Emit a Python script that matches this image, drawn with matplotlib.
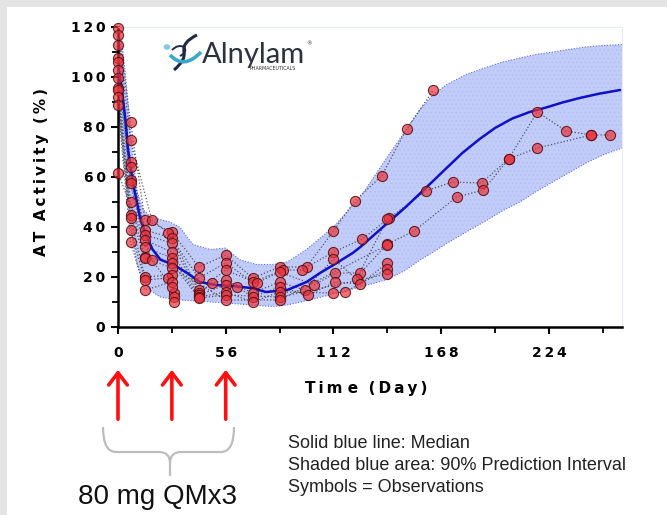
import matplotlib
matplotlib.use("Agg")
import matplotlib.pyplot as plt
from matplotlib.patches import Rectangle, FancyArrowPatch, PathPatch
from matplotlib.path import Path
from matplotlib.ticker import FixedLocator, FixedFormatter, MultipleLocator
import matplotlib.transforms as mtransforms

# ---------------- data ----------------
band_day = [0, 2, 4, 6, 8, 10, 13, 17, 22, 27, 32, 39, 48, 56, 63, 72, 81, 88, 98,
            112, 126, 140, 149, 157, 164, 171, 181, 192, 200, 209, 217, 226, 234, 243, 252, 262]
band_upper = [120, 114, 100, 82, 66, 54, 47, 44, 43, 42, 40, 33, 31, 31.6, 27, 25, 25, 26, 31,
              40, 52, 68, 78, 87, 93, 97, 101, 104, 106, 107.6, 109, 110, 111, 112, 112.6, 113]
band_lower = [88, 75, 58, 44, 33, 25, 18, 14.5, 12, 11.3, 10.8, 10.5, 10, 9.6, 9.2, 8.6, 8.2, 8.8, 10.5,
              13.2, 16, 19, 22.5, 26.8, 30, 33.5, 38, 42.8, 46.5, 50, 54, 58, 61.5, 65.5, 68.8, 71.6]

median_day = [0, 2, 4, 5.2, 7.8, 11.4, 15, 18, 22, 29, 36, 42.6, 51, 60, 69, 77, 88, 98, 105,
              112, 122, 126, 136, 140, 150, 160, 170, 179, 188, 196, 205, 214, 223, 231, 240, 250, 261]
median_val = [105, 95, 82, 71, 57.6, 44, 36, 31, 27, 24.8, 21.6, 18, 16.8, 16.4, 15.6, 14, 14.8, 18, 21.6,
              24.8, 29.6, 32, 38.8, 41.5, 48.3, 55.6, 63, 69.6, 75.2, 79.6, 83.4, 86, 87.9, 89.8, 91.6, 93.3, 94.8]

obs_subject = ([1] * 14 + [2] * 20 + [3] * 18 + [4] * 13 + [5] * 13 + [6] * 11 + [7] * 8 + [8] * 7
               + [9] * 5 + [10] * 5 + [11] * 5 + [12] * 3)
obs_day = [
    0, 6.5, 14, 28, 42, 56, 70, 84, 98, 112, 123, 137, 150, 164,
    0, 6.5, 17.6, 26, 42, 56, 70, 86, 95.6, 112, 127, 141, 160, 174, 189, 203, 218, 233, 246, 256,
    0, 6.5, 14, 28, 42, 56, 72, 84, 102, 113, 126, 140, 154, 176, 190, 203, 218, 246,
    0, 6.5, 14, 28, 42, 49, 56, 70, 84, 97, 112, 124, 140,
    0, 6.5, 14, 28, 42, 56, 62, 70, 84, 99, 113, 126, 140,
    0, 6.5, 14, 28, 42, 56, 70, 84, 112, 118, 140,
    0, 6.5, 14, 28, 42, 56, 84, 140,
    0, 6.5, 14, 28, 56, 84, 140,
    0, 6.5, 14, 28, 29,
    0, 6.5, 14, 26, 29,
    0, 6.5, 14, 28, 29,
    0, 17.6, 28,
]
obs_value = [
    119.6, 82, 42.8, 38, 24, 28.8, 19.6, 24, 24, 38.4, 50.4, 60.4, 79.2, 94.8,
    116.8, 75, 42.8, 37.6, 19.6, 25.6, 18, 22.8, 22.8, 30, 35.2, 43.6, 54.4, 58, 57.6, 67.2, 86, 78.4, 76.8, 76.8,
    112.8, 66, 38.8, 35.6, 14.8, 22.8, 17.6, 22, 16.8, 21.6, 21.6, 33.2, 38.4, 52, 54.8, 67.2, 71.6, 76.8,
    107.6, 64, 36.8, 33.6, 13.6, 17.6, 18.8, 13.6, 18, 14.8, 27.2, 19.2, 43.2,
    106, 58.8, 34.8, 30, 12.8, 16.8, 16, 12, 16, 12.8, 18, 17.2, 25.6,
    102.8, 57.6, 32, 27.6, 12, 14, 10, 14, 13.6, 14, 23.2,
    99.6, 50, 28, 25.6, 11.6, 12.8, 12, 21.2,
    95.6, 44.8, 27.6, 23.6, 10.8, 10.8, 32.8,
    94.8, 43.6, 20, 20.8, 13.6,
    92, 38.8, 18.8, 19.6, 12,
    88.8, 34, 14.8, 18, 10,
    61.6, 26.8, 16,
]

dose_days = [0, 28, 56]
x_ticks = [0, 56, 112, 168, 224]
x_tick_labels = ["0", "56", "112", "168", "224"]
y_ticks = [0, 20, 40, 60, 80, 100, 120]
y_tick_labels = ["0", "20", "40", "60", "80", "100", "120"]

# ---------------- figure ----------------
W, H = 667, 515
fig = plt.figure(figsize=(W / 100, H / 100), dpi=100)
fig.patch.set_facecolor("#e4e4e4")
fig.add_artist(Rectangle((7 / W, 0), 1, 1 - 7 / H, transform=fig.transFigure,
                         facecolor="white", edgecolor="none", zorder=-10))


def fx(px):
    return px / W


def fy(py):
    return 1 - py / H


ax = fig.add_axes([fx(118), fy(327), (622 - 118) / W, 300 / H])
ax.patch.set_alpha(0)
ax.set_xlim(0, 262)
ax.set_ylim(0, 120)

plt.rcParams["hatch.linewidth"] = 0.5
ax.fill_between(band_day, band_lower, band_upper, facecolor="#c2ccf8",
                edgecolor="#b0bdf6", hatch="....", linewidth=0, zorder=1)
ax.plot(band_day, band_upper, color="#6070ea", ls=(0, (1, 1.5)), lw=0.8, zorder=1.5)
ax.plot(band_day, band_lower, color="#6070ea", ls=(0, (1, 1.5)), lw=0.8, zorder=1.5)

# observations: dotted lines per subject
subjects = sorted(set(obs_subject))
for s in subjects:
    d = [obs_day[i] for i in range(len(obs_day)) if obs_subject[i] == s]
    v = [obs_value[i] for i in range(len(obs_day)) if obs_subject[i] == s]
    ax.plot(d, v, color="#3a3a3a", ls=(0, (1, 1.6)), lw=0.9, alpha=0.8, zorder=2)

ax.plot(median_day, median_val, color="#1010c8", lw=1.8, zorder=3, solid_capstyle="round")

ax.plot(obs_day, obs_value, ls="none", marker="o", markersize=7.3,
        markerfacecolor=(0.92, 0.20, 0.24, 0.70), markeredgecolor=(0.32, 0.06, 0.06, 0.85),
        markeredgewidth=0.8, zorder=4, clip_on=False)

# spines / ticks
for side in ["left", "bottom"]:
    ax.spines[side].set_linewidth(1.8)
    ax.spines[side].set_color("black")
for side in ["top", "right"]:
    ax.spines[side].set_linewidth(0.8)
    ax.spines[side].set_color("#e6ebf7")

sp = "\u2009"
ax.xaxis.set_major_locator(FixedLocator(x_ticks))
ax.xaxis.set_major_formatter(FixedFormatter([sp.join(t) for t in x_tick_labels]))
ax.xaxis.set_minor_locator(MultipleLocator(28))
ax.yaxis.set_major_locator(FixedLocator(y_ticks))
ax.yaxis.set_major_formatter(FixedFormatter([sp.join(t) for t in y_tick_labels]))
ax.yaxis.set_minor_locator(MultipleLocator(10))
ax.tick_params(axis="both", which="major", direction="out", length=5, width=1.5,
               labelsize=10)
ax.tick_params(axis="both", which="minor", direction="out", length=4, width=1.3)
ax.tick_params(axis="x", which="major", pad=9)
ax.tick_params(axis="y", which="major", pad=4)
ax.tick_params(top=False, right=False, which="both")
for lab in ax.get_xticklabels() + ax.get_yticklabels():
    lab.set_fontweight("bold")
    lab.set_family("DejaVu Sans")

fig.text(fx(42), fy(172), sp.join("AT") + "  " + sp.join("Activity") + "  " + sp.join("(%)"),
         rotation=90, ha="center", va="center", fontsize=11, fontweight="bold",
         family="DejaVu Sans")
fig.text(fx(366), fy(389), sp.join("Tim") + " " + "e" + "  " + sp.join("(Day)"),
         ha="center", va="center", fontsize=11, fontweight="bold", family="DejaVu Sans")

# dose arrows (x in data coords, y in figure coords)
btrans = mtransforms.blended_transform_factory(ax.transData, fig.transFigure)
for d in dose_days:
    arr = FancyArrowPatch((d, fy(422)), (d, fy(367)), transform=btrans,
                          arrowstyle="->,head_length=0.55,head_width=0.42",
                          mutation_scale=16, color="#ff1010", lw=2.6,
                          clip_on=False)
    fig.add_artist(arr)


# brace
def P(px, py):
    return (fx(px), fy(py))


verts = [P(103, 427), P(103, 452), P(116, 452), P(159, 452), P(170, 452), P(170, 463), P(170, 476),
         P(170, 463), P(170, 452), P(181, 452), P(221, 452), P(234, 452), P(234, 427)]
codes = [Path.MOVETO, Path.CURVE3, Path.CURVE3, Path.LINETO, Path.CURVE3, Path.CURVE3, Path.LINETO,
         Path.MOVETO, Path.CURVE3, Path.CURVE3, Path.LINETO, Path.CURVE3, Path.CURVE3]
fig.add_artist(PathPatch(Path(verts, codes), transform=fig.transFigure, facecolor="none",
                         edgecolor="#bdbdbd", lw=1.6))

fig.text(fx(157), fy(497), "80 mg QMx3", ha="center", va="center", fontsize=20,
         family="Liberation Sans", color="#111111")

notes = ["Solid blue line: Median", "Shaded blue area: 90% Prediction Interval",
         "Symbols = Observations"]
for i, t in enumerate(notes):
    fig.text(fx(288), fy(443 + 22 * i), t, ha="left", va="center", fontsize=13,
             family="Liberation Sans", color="#222222")

# logo
v1 = [P(197, 35), P(182, 42), P(184, 52), P(186, 60), P(174, 70)]
c1 = [Path.MOVETO, Path.CURVE3, Path.CURVE3, Path.CURVE3, Path.CURVE3]
fig.add_artist(PathPatch(Path(v1, c1), transform=fig.transFigure, facecolor="none",
                         edgecolor="#1d2b48", lw=2.2))
v2 = [P(172, 50), P(178, 44), P(184, 47), P(188, 52), P(180, 56)]
fig.add_artist(PathPatch(Path(v2, c1), transform=fig.transFigure, facecolor="none",
                         edgecolor="#1d2b48", lw=1.4))
v3 = [P(170, 55), P(184, 70), P(201, 52)]
fig.add_artist(PathPatch(Path(v3, [Path.MOVETO, Path.CURVE3, Path.CURVE3]),
                         transform=fig.transFigure, facecolor="none",
                         edgecolor="#3ba7c9", lw=2.6))
fig.add_artist(plt.Circle(P(167, 47), 0.004, transform=fig.transFigure, color="#86c8de"))
fig.text(fx(202), fy(63), "Alnylam", ha="left", va="baseline", fontsize=21,
         family="Lato", color="#2a3240")
fig.text(fx(306), fy(44), "®", ha="left", va="center", fontsize=4, color="#2a3240")
fig.text(fx(249), fy(69), "PHARMACEUTICALS", ha="left", va="center", fontsize=3.4,
         family="DejaVu Sans", color="#333333")

fig.savefig("out.png", dpi=100)
